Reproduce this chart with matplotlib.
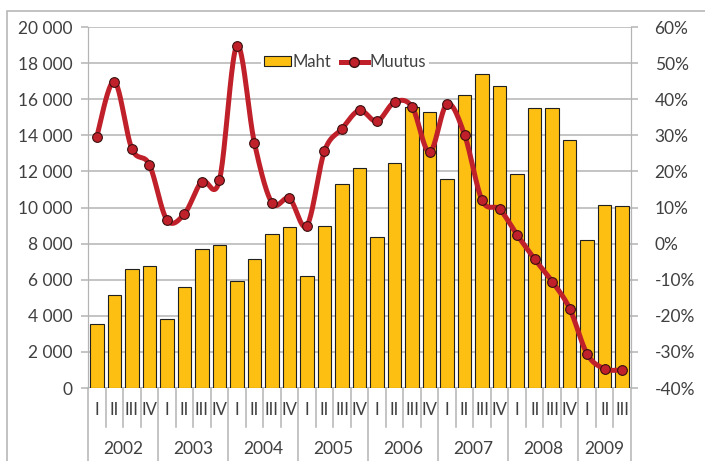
import numpy as np
import matplotlib
matplotlib.use("Agg")
import matplotlib.pyplot as plt
from matplotlib.patches import Rectangle
from matplotlib.lines import Line2D

years = ["2002", "2003", "2004", "2005", "2006", "2007", "2008", "2009"]
quarters = ["I", "II", "III", "IV"] * 7 + ["I", "II", "III"]
maht = [3560, 5150, 6580, 6740,
        3830, 5580, 7680, 7930,
        5950, 7130, 8540, 8930,
        6230, 8980, 11300, 12200,
        8350, 12490, 15560, 15280,
        11570, 16240, 17390, 16720,
        11860, 15520, 15540, 13730,
        8220, 10150, 10090]
muutus = [29.6, 44.9, 26.3, 21.9,
          6.6, 8.2, 17.2, 17.5,
          54.8, 27.9, 11.3, 12.5,
          5.0, 25.6, 31.8, 36.9,
          33.9, 39.2, 37.9, 25.3,
          38.7, 30.1, 12.0, 9.5,
          2.4, -4.3, -10.5, -18.0,
          -30.6, -34.7, -35.0]

plt.rcParams["font.family"] = ["Lato", "DejaVu Sans"]
txt = "#404040"
grid = "#b4b4b4"


def smooth(x, y, n=24):
    """Excel-like smoothed line (Catmull-Rom as cubic Bezier)."""
    p = np.column_stack([x, y]).astype(float)
    out = []
    for i in range(len(p) - 1):
        p0 = p[i - 1] if i > 0 else p[i]
        p1, p2 = p[i], p[i + 1]
        p3 = p[i + 2] if i + 2 < len(p) else p[i + 1]
        c1 = p1 + (p2 - p0) / 6
        c2 = p2 - (p3 - p1) / 6
        t = np.linspace(0, 1, n)[:, None]
        seg = ((1 - t) ** 3) * p1 + 3 * ((1 - t) ** 2) * t * c1 \
            + 3 * (1 - t) * t ** 2 * c2 + t ** 3 * p2
        out.append(seg if i == 0 else seg[1:])
    out = np.vstack(out)
    return out[:, 0], out[:, 1]


fig = plt.figure(figsize=(7.05, 4.61), dpi=100)
ax = fig.add_axes([88 / 705, 1 - 388 / 461, 543 / 705, 361 / 461])
ax2 = ax.twinx()

x = np.arange(len(maht))
ax.set_axisbelow(True)
ax.bar(x, maht, width=0.77, color="#FDBF12", edgecolor="#202020",
       linewidth=0.8, zorder=2)
ax.set_xlim(-0.5, len(maht) - 0.5)
ax.set_ylim(0, 20000)
ax.set_yticks(range(0, 20001, 2000))
ax.set_yticklabels([f"{v:,}".replace(",", " ") for v in range(0, 20001, 2000)])
ax.yaxis.grid(True, color=grid, linewidth=1.1)
ax.set_xticks([])

sx, sy = smooth(x, muutus)
ax2.plot(sx, sy, color="#C0202A", linewidth=3.6, solid_capstyle="round", zorder=3)
ax2.plot(x, muutus, linestyle="none", marker="o", markersize=7,
         markerfacecolor="#C0202A", markeredgecolor="#3a1010",
         markeredgewidth=0.8, zorder=4)
ax2.set_ylim(-40, 60)
ax2.set_yticks(range(-40, 61, 10))
ax2.set_yticklabels([f"{v}%" for v in range(-40, 61, 10)])
ax2.set_xlim(-0.5, len(maht) - 0.5)

for a in (ax, ax2):
    for s in ("top", "bottom"):
        a.spines[s].set_visible(False)
    a.spines["left"].set_color(grid)
    a.spines["right"].set_color(grid)
    a.tick_params(axis="y", colors=grid, labelcolor=txt, labelsize=12.5,
                  length=5, width=1.1, direction="out", pad=4)
ax.tick_params(axis="y", pad=6)
ax2.tick_params(axis="y", pad=12)

# bottom axis line and two-level category labels
ax.axhline(0, color=grid, linewidth=1.1, zorder=1)
trans = ax.get_xaxis_transform()
for i, q in enumerate(quarters):
    ax.text(i, -0.061, q, transform=trans, ha="center", va="center",
            fontsize=12, color=txt)
for b in range(len(maht) + 1):
    y_end = -0.25 if b % 4 == 0 or b == len(maht) else -0.108
    ax.add_line(Line2D([b - 0.5, b - 0.5], [0, y_end], transform=trans,
                       color=grid, linewidth=1.1, clip_on=False))
for k, yr in enumerate(years):
    start = 4 * k
    end = min(4 * k + 3, len(maht) - 1)
    ax.text((start + end) / 2, -0.169, yr, transform=trans, ha="center",
            va="center", fontsize=12.5, color=txt)

handles = [Rectangle((0, 0), 1, 1, facecolor="#FDBF12", edgecolor="#202020",
                     linewidth=0.8),
           Line2D([], [], color="#C0202A", linewidth=3.6, marker="o",
                  markersize=7, markerfacecolor="#C0202A",
                  markeredgecolor="#3a1010")]
leg = ax2.legend(handles, ["Maht", "Muutus"], loc="center",
                 bbox_to_anchor=(0.473, 0.903), ncol=2, frameon=True,
                 fontsize=12, handlelength=1.6, handleheight=0.5,
                 handletextpad=0.1, columnspacing=0.6, borderpad=0.2,
                 borderaxespad=0)
leg.get_frame().set_facecolor("white")
leg.get_frame().set_edgecolor("none")
leg.get_frame().set_alpha(1)
for t in leg.get_texts():
    t.set_color(txt)

# outer chart border
fig.patches.append(Rectangle((7 / 705, -0.05), 1.1, 1 - 11 / 461 + 0.05,
                             transform=fig.transFigure, fill=False,
                             edgecolor="#b8b8b8", linewidth=1.2))

fig.savefig("out.png", dpi=100)
